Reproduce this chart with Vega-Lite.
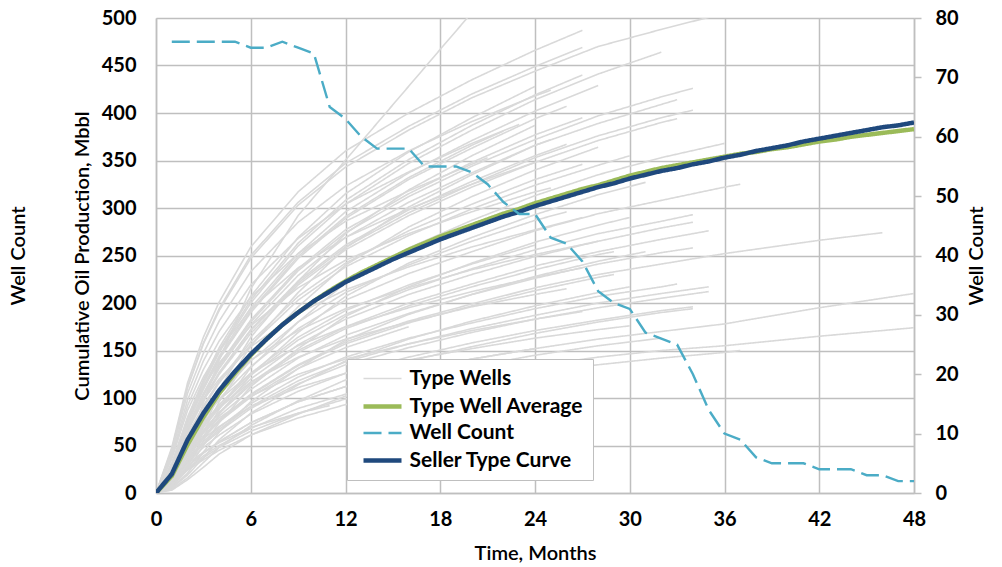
{
  "$schema": "https://vega.github.io/schema/vega-lite/v6.json",
  "width": 758,
  "height": 475,
  "autosize": {"type": "none"},
  "padding": {"left": 156, "top": 18, "right": 88, "bottom": 74},
  "background": "white",
  "config": {
    "font": "Lato",
    "view": {"stroke": null},
    "axis": {
      "labelFont": "Lato", "labelFontSize": 20, "labelFontWeight": "bold", "labelColor": "#000", "labelFlush": false,
      "titleFont": "Lato", "titleFontSize": 20, "titleFontWeight": 600, "titleColor": "#000",
      "gridColor": "#bfbfbf", "gridWidth": 1.5, "domainColor": "#bfbfbf", "domainWidth": 1.5, "ticks": false
    },
    "legend": {
      "orient": "none", "legendX": 191, "legendY": 341,
      "fillColor": "#ffffff", "strokeColor": "#bfbfbf", "padding": 9,
      "symbolType": "M-2,0H2", "symbolSize": 361, "symbolOffset": 14.5, "labelOffset": 15,
      "labelFont": "Lato", "labelFontSize": 21, "labelFontWeight": "bold", "labelColor": "#000", "labelLimit": 400,
      "rowPadding": 5.5
    }
  },
  "datasets": {
    "wells": [
      {"w":1,"t":0,"v":0},{"w":1,"t":1,"v":12},{"w":1,"t":2,"v":45},{"w":1,"t":3,"v":95},{"w":1,"t":4,"v":140},{"w":1,"t":6,"v":215},{"w":1,"t":9,"v":292},{"w":1,"t":18,"v":467},{"w":1,"t":21,"v":525},
      {"w":2,"t":0,"v":0},{"w":2,"t":1,"v":48},{"w":2,"t":2,"v":116},{"w":2,"t":3,"v":164},{"w":2,"t":4,"v":201},{"w":2,"t":6,"v":259},{"w":2,"t":9,"v":317},{"w":2,"t":12,"v":360},{"w":2,"t":16,"v":400},{"w":2,"t":20,"v":435},{"w":2,"t":24,"v":466},{"w":2,"t":27,"v":487},
      {"w":3,"t":0,"v":0},{"w":3,"t":1,"v":46},{"w":3,"t":2,"v":112},{"w":3,"t":3,"v":158},{"w":3,"t":4,"v":194},{"w":3,"t":6,"v":250},{"w":3,"t":9,"v":306},{"w":3,"t":12,"v":347},{"w":3,"t":16,"v":386},{"w":3,"t":20,"v":420},{"w":3,"t":24,"v":449},{"w":3,"t":27,"v":469},
      {"w":4,"t":0,"v":0},{"w":4,"t":1,"v":45},{"w":4,"t":2,"v":111},{"w":4,"t":3,"v":157},{"w":4,"t":4,"v":192},{"w":4,"t":6,"v":247},{"w":4,"t":9,"v":303},{"w":4,"t":12,"v":343},{"w":4,"t":16,"v":382},{"w":4,"t":20,"v":416},{"w":4,"t":24,"v":444},{"w":4,"t":28,"v":470},{"w":4,"t":32,"v":488},{"w":4,"t":36,"v":505},
      {"w":5,"t":0,"v":0},{"w":5,"t":1,"v":29},{"w":5,"t":2,"v":80},{"w":5,"t":3,"v":119},{"w":5,"t":4,"v":153},{"w":5,"t":6,"v":207},{"w":5,"t":9,"v":269},{"w":5,"t":12,"v":315},{"w":5,"t":16,"v":359},{"w":5,"t":20,"v":395},{"w":5,"t":24,"v":428},
      {"w":6,"t":0,"v":0},{"w":6,"t":1,"v":28},{"w":6,"t":2,"v":78},{"w":6,"t":3,"v":117},{"w":6,"t":4,"v":150},{"w":6,"t":6,"v":203},{"w":6,"t":9,"v":263},{"w":6,"t":12,"v":308},{"w":6,"t":16,"v":351},{"w":6,"t":20,"v":387},{"w":6,"t":24,"v":419},{"w":6,"t":27,"v":440},
      {"w":7,"t":0,"v":0},{"w":7,"t":1,"v":28},{"w":7,"t":2,"v":77},{"w":7,"t":3,"v":115},{"w":7,"t":4,"v":148},{"w":7,"t":6,"v":200},{"w":7,"t":9,"v":260},{"w":7,"t":12,"v":304},{"w":7,"t":16,"v":347},{"w":7,"t":20,"v":382},{"w":7,"t":24,"v":414},{"w":7,"t":28,"v":441},{"w":7,"t":32,"v":464},
      {"w":8,"t":0,"v":0},{"w":8,"t":1,"v":43},{"w":8,"t":2,"v":105},{"w":8,"t":3,"v":147},{"w":8,"t":4,"v":181},{"w":8,"t":6,"v":233},{"w":8,"t":9,"v":285},{"w":8,"t":12,"v":323},{"w":8,"t":16,"v":360},{"w":8,"t":20,"v":391},{"w":8,"t":24,"v":418},{"w":8,"t":25,"v":424},
      {"w":9,"t":0,"v":0},{"w":9,"t":1,"v":27},{"w":9,"t":2,"v":75},{"w":9,"t":3,"v":112},{"w":9,"t":4,"v":144},{"w":9,"t":6,"v":195},{"w":9,"t":9,"v":252},{"w":9,"t":12,"v":296},{"w":9,"t":16,"v":337},{"w":9,"t":20,"v":371},{"w":9,"t":24,"v":402},{"w":9,"t":28,"v":429},
      {"w":10,"t":0,"v":0},{"w":10,"t":1,"v":26},{"w":10,"t":2,"v":74},{"w":10,"t":3,"v":110},{"w":10,"t":4,"v":142},{"w":10,"t":6,"v":192},{"w":10,"t":9,"v":249},{"w":10,"t":12,"v":291},{"w":10,"t":16,"v":332},{"w":10,"t":20,"v":366},{"w":10,"t":22,"v":381},
      {"w":11,"t":0,"v":0},{"w":11,"t":1,"v":26},{"w":11,"t":2,"v":73},{"w":11,"t":3,"v":109},{"w":11,"t":4,"v":141},{"w":11,"t":6,"v":190},{"w":11,"t":9,"v":247},{"w":11,"t":12,"v":289},{"w":11,"t":16,"v":330},{"w":11,"t":20,"v":363},{"w":11,"t":24,"v":394},{"w":11,"t":26,"v":407},
      {"w":12,"t":0,"v":0},{"w":12,"t":1,"v":9},{"w":12,"t":2,"v":36},{"w":12,"t":3,"v":73},{"w":12,"t":4,"v":109},{"w":12,"t":6,"v":164},{"w":12,"t":9,"v":223},{"w":12,"t":12,"v":273},{"w":12,"t":16,"v":319},{"w":12,"t":20,"v":355},{"w":12,"t":24,"v":387},
      {"w":13,"t":0,"v":0},{"w":13,"t":1,"v":40},{"w":13,"t":2,"v":98},{"w":13,"t":3,"v":139},{"w":13,"t":4,"v":170},{"w":13,"t":6,"v":219},{"w":13,"t":9,"v":268},{"w":13,"t":12,"v":304},{"w":13,"t":16,"v":338},{"w":13,"t":20,"v":368},{"w":13,"t":23,"v":388},
      {"w":14,"t":0,"v":0},{"w":14,"t":1,"v":25},{"w":14,"t":2,"v":70},{"w":14,"t":3,"v":105},{"w":14,"t":4,"v":135},{"w":14,"t":6,"v":182},{"w":14,"t":9,"v":236},{"w":14,"t":12,"v":277},{"w":14,"t":16,"v":315},{"w":14,"t":20,"v":348},{"w":14,"t":24,"v":377},{"w":14,"t":27,"v":395},
      {"w":15,"t":0,"v":0},{"w":15,"t":1,"v":25},{"w":15,"t":2,"v":69},{"w":15,"t":3,"v":104},{"w":15,"t":4,"v":133},{"w":15,"t":6,"v":180},{"w":15,"t":9,"v":234},{"w":15,"t":12,"v":274},{"w":15,"t":16,"v":312},{"w":15,"t":20,"v":344},{"w":15,"t":24,"v":372},{"w":15,"t":28,"v":397},{"w":15,"t":32,"v":417},{"w":15,"t":34,"v":426},
      {"w":16,"t":0,"v":0},{"w":16,"t":1,"v":9},{"w":16,"t":2,"v":34},{"w":16,"t":3,"v":69},{"w":16,"t":4,"v":103},{"w":16,"t":6,"v":155},{"w":16,"t":9,"v":211},{"w":16,"t":12,"v":258},{"w":16,"t":16,"v":301},{"w":16,"t":20,"v":335},{"w":16,"t":24,"v":366},{"w":16,"t":25,"v":372},
      {"w":17,"t":0,"v":0},{"w":17,"t":1,"v":24},{"w":17,"t":2,"v":68},{"w":17,"t":3,"v":102},{"w":17,"t":4,"v":131},{"w":17,"t":6,"v":177},{"w":17,"t":9,"v":229},{"w":17,"t":12,"v":269},{"w":17,"t":16,"v":306},{"w":17,"t":20,"v":337},{"w":17,"t":24,"v":366},{"w":17,"t":28,"v":389},{"w":17,"t":32,"v":409},{"w":17,"t":33,"v":414},
      {"w":18,"t":0,"v":0},{"w":18,"t":1,"v":38},{"w":18,"t":2,"v":92},{"w":18,"t":3,"v":130},{"w":18,"t":4,"v":160},{"w":18,"t":6,"v":206},{"w":18,"t":9,"v":252},{"w":18,"t":12,"v":286},{"w":18,"t":16,"v":318},{"w":18,"t":20,"v":346},{"w":18,"t":21,"v":353},
      {"w":19,"t":0,"v":0},{"w":19,"t":1,"v":24},{"w":19,"t":2,"v":66},{"w":19,"t":3,"v":99},{"w":19,"t":4,"v":127},{"w":19,"t":6,"v":172},{"w":19,"t":9,"v":223},{"w":19,"t":12,"v":261},{"w":19,"t":16,"v":298},{"w":19,"t":20,"v":328},{"w":19,"t":24,"v":355},{"w":19,"t":26,"v":367},
      {"w":20,"t":0,"v":0},{"w":20,"t":1,"v":23},{"w":20,"t":2,"v":66},{"w":20,"t":3,"v":98},{"w":20,"t":4,"v":126},{"w":20,"t":6,"v":171},{"w":20,"t":9,"v":221},{"w":20,"t":12,"v":259},{"w":20,"t":16,"v":295},{"w":20,"t":20,"v":325},{"w":20,"t":24,"v":353},{"w":20,"t":28,"v":376},{"w":20,"t":32,"v":395},{"w":20,"t":34,"v":403},
      {"w":21,"t":0,"v":0},{"w":21,"t":1,"v":23},{"w":21,"t":2,"v":65},{"w":21,"t":3,"v":97},{"w":21,"t":4,"v":125},{"w":21,"t":6,"v":168},{"w":21,"t":9,"v":219},{"w":21,"t":12,"v":256},{"w":21,"t":16,"v":292},{"w":21,"t":20,"v":322},{"w":21,"t":24,"v":348},{"w":21,"t":28,"v":371},{"w":21,"t":32,"v":390},{"w":21,"t":33,"v":394},
      {"w":22,"t":0,"v":0},{"w":22,"t":1,"v":8},{"w":22,"t":2,"v":32},{"w":22,"t":3,"v":64},{"w":22,"t":4,"v":96},{"w":22,"t":6,"v":144},{"w":22,"t":9,"v":196},{"w":22,"t":12,"v":240},{"w":22,"t":16,"v":280},{"w":22,"t":20,"v":312},{"w":22,"t":24,"v":340},{"w":22,"t":28,"v":364},
      {"w":23,"t":0,"v":0},{"w":23,"t":1,"v":36},{"w":23,"t":2,"v":87},{"w":23,"t":3,"v":122},{"w":23,"t":4,"v":150},{"w":23,"t":6,"v":194},{"w":23,"t":9,"v":237},{"w":23,"t":12,"v":269},{"w":23,"t":16,"v":299},{"w":23,"t":20,"v":325},{"w":23,"t":24,"v":348},
      {"w":24,"t":0,"v":0},{"w":24,"t":1,"v":22},{"w":24,"t":2,"v":61},{"w":24,"t":3,"v":92},{"w":24,"t":4,"v":118},{"w":24,"t":6,"v":159},{"w":24,"t":9,"v":207},{"w":24,"t":12,"v":242},{"w":24,"t":16,"v":276},{"w":24,"t":20,"v":304},{"w":24,"t":24,"v":330},{"w":24,"t":27,"v":346},
      {"w":25,"t":0,"v":0},{"w":25,"t":1,"v":22},{"w":25,"t":2,"v":60},{"w":25,"t":3,"v":90},{"w":25,"t":4,"v":116},{"w":25,"t":6,"v":156},{"w":25,"t":9,"v":203},{"w":25,"t":12,"v":238},{"w":25,"t":16,"v":271},{"w":25,"t":20,"v":299},{"w":25,"t":24,"v":324},{"w":25,"t":28,"v":345},{"w":25,"t":30,"v":355},
      {"w":26,"t":0,"v":0},{"w":26,"t":1,"v":7},{"w":26,"t":2,"v":29},{"w":26,"t":3,"v":59},{"w":26,"t":4,"v":88},{"w":26,"t":6,"v":132},{"w":26,"t":9,"v":180},{"w":26,"t":12,"v":221},{"w":26,"t":16,"v":258},{"w":26,"t":20,"v":287},{"w":26,"t":24,"v":313},{"w":26,"t":28,"v":335},{"w":26,"t":32,"v":353},{"w":26,"t":36,"v":368},
      {"w":27,"t":0,"v":0},{"w":27,"t":1,"v":32},{"w":27,"t":2,"v":79},{"w":27,"t":3,"v":112},{"w":27,"t":4,"v":137},{"w":27,"t":6,"v":176},{"w":27,"t":9,"v":216},{"w":27,"t":12,"v":245},{"w":27,"t":16,"v":273},{"w":27,"t":20,"v":296},{"w":27,"t":24,"v":317},{"w":27,"t":25,"v":321},
      {"w":28,"t":0,"v":0},{"w":28,"t":1,"v":20},{"w":28,"t":2,"v":56},{"w":28,"t":3,"v":84},{"w":28,"t":4,"v":109},{"w":28,"t":6,"v":147},{"w":28,"t":9,"v":191},{"w":28,"t":12,"v":223},{"w":28,"t":16,"v":255},{"w":28,"t":20,"v":280},{"w":28,"t":24,"v":304},{"w":28,"t":28,"v":324},
      {"w":29,"t":0,"v":0},{"w":29,"t":1,"v":7},{"w":29,"t":2,"v":28},{"w":29,"t":3,"v":55},{"w":29,"t":4,"v":83},{"w":29,"t":6,"v":124},{"w":29,"t":9,"v":169},{"w":29,"t":12,"v":207},{"w":29,"t":16,"v":242},{"w":29,"t":20,"v":269},{"w":29,"t":24,"v":293},{"w":29,"t":28,"v":314},{"w":29,"t":31,"v":327},
      {"w":30,"t":0,"v":0},{"w":30,"t":1,"v":19},{"w":30,"t":2,"v":53},{"w":30,"t":3,"v":80},{"w":30,"t":4,"v":103},{"w":30,"t":6,"v":139},{"w":30,"t":9,"v":180},{"w":30,"t":12,"v":211},{"w":30,"t":16,"v":240},{"w":30,"t":20,"v":265},{"w":30,"t":24,"v":287},{"w":30,"t":26,"v":296},
      {"w":31,"t":0,"v":0},{"w":31,"t":1,"v":18},{"w":31,"t":2,"v":51},{"w":31,"t":3,"v":77},{"w":31,"t":4,"v":99},{"w":31,"t":6,"v":133},{"w":31,"t":9,"v":173},{"w":31,"t":12,"v":203},{"w":31,"t":16,"v":231},{"w":31,"t":20,"v":254},{"w":31,"t":24,"v":276},{"w":31,"t":28,"v":294},{"w":31,"t":32,"v":308},{"w":31,"t":36,"v":322},{"w":31,"t":37,"v":325},
      {"w":32,"t":0,"v":0},{"w":32,"t":1,"v":28},{"w":32,"t":2,"v":69},{"w":32,"t":3,"v":98},{"w":32,"t":4,"v":120},{"w":32,"t":6,"v":154},{"w":32,"t":9,"v":189},{"w":32,"t":12,"v":214},{"w":32,"t":16,"v":238},{"w":32,"t":20,"v":259},{"w":32,"t":24,"v":277},{"w":32,"t":27,"v":290},
      {"w":33,"t":0,"v":0},{"w":33,"t":1,"v":6},{"w":33,"t":2,"v":25},{"w":33,"t":3,"v":50},{"w":33,"t":4,"v":74},{"w":33,"t":6,"v":112},{"w":33,"t":9,"v":152},{"w":33,"t":12,"v":186},{"w":33,"t":16,"v":217},{"w":33,"t":20,"v":242},{"w":33,"t":24,"v":264},{"w":33,"t":28,"v":282},{"w":33,"t":30,"v":290},
      {"w":34,"t":0,"v":0},{"w":34,"t":1,"v":17},{"w":34,"t":2,"v":48},{"w":34,"t":3,"v":73},{"w":34,"t":4,"v":93},{"w":34,"t":6,"v":126},{"w":34,"t":9,"v":164},{"w":34,"t":12,"v":192},{"w":34,"t":16,"v":219},{"w":34,"t":20,"v":241},{"w":34,"t":24,"v":261},
      {"w":35,"t":0,"v":0},{"w":35,"t":1,"v":17},{"w":35,"t":2,"v":48},{"w":35,"t":3,"v":71},{"w":35,"t":4,"v":91},{"w":35,"t":6,"v":124},{"w":35,"t":9,"v":161},{"w":35,"t":12,"v":188},{"w":35,"t":16,"v":214},{"w":35,"t":20,"v":236},{"w":35,"t":24,"v":256},{"w":35,"t":28,"v":273},{"w":35,"t":32,"v":286},{"w":35,"t":34,"v":293},
      {"w":36,"t":0,"v":0},{"w":36,"t":1,"v":17},{"w":36,"t":2,"v":46},{"w":36,"t":3,"v":69},{"w":36,"t":4,"v":89},{"w":36,"t":6,"v":120},{"w":36,"t":9,"v":156},{"w":36,"t":12,"v":183},{"w":36,"t":16,"v":209},{"w":36,"t":20,"v":230},{"w":36,"t":24,"v":249},{"w":36,"t":28,"v":265},{"w":36,"t":32,"v":279},{"w":36,"t":34,"v":285},
      {"w":37,"t":0,"v":0},{"w":37,"t":1,"v":26},{"w":37,"t":2,"v":63},{"w":37,"t":3,"v":88},{"w":37,"t":4,"v":108},{"w":37,"t":6,"v":140},{"w":37,"t":9,"v":171},{"w":37,"t":12,"v":194},{"w":37,"t":16,"v":216},{"w":37,"t":20,"v":235},{"w":37,"t":24,"v":251},{"w":37,"t":28,"v":265},
      {"w":38,"t":0,"v":0},{"w":38,"t":1,"v":16},{"w":38,"t":2,"v":44},{"w":38,"t":3,"v":66},{"w":38,"t":4,"v":85},{"w":38,"t":6,"v":116},{"w":38,"t":9,"v":150},{"w":38,"t":12,"v":175},{"w":38,"t":16,"v":200},{"w":38,"t":20,"v":220},{"w":38,"t":24,"v":239},{"w":38,"t":28,"v":254},{"w":38,"t":32,"v":267},{"w":38,"t":35,"v":276},
      {"w":39,"t":0,"v":0},{"w":39,"t":1,"v":16},{"w":39,"t":2,"v":44},{"w":39,"t":3,"v":65},{"w":39,"t":4,"v":84},{"w":39,"t":6,"v":114},{"w":39,"t":9,"v":148},{"w":39,"t":12,"v":173},{"w":39,"t":16,"v":197},{"w":39,"t":20,"v":217},{"w":39,"t":24,"v":235},{"w":39,"t":28,"v":251},{"w":39,"t":29,"v":254},
      {"w":40,"t":0,"v":0},{"w":40,"t":1,"v":5},{"w":40,"t":2,"v":21},{"w":40,"t":3,"v":43},{"w":40,"t":4,"v":64},{"w":40,"t":6,"v":96},{"w":40,"t":9,"v":131},{"w":40,"t":12,"v":161},{"w":40,"t":16,"v":188},{"w":40,"t":20,"v":209},{"w":40,"t":24,"v":228},{"w":40,"t":28,"v":244},{"w":40,"t":31,"v":254},
      {"w":41,"t":0,"v":0},{"w":41,"t":1,"v":15},{"w":41,"t":2,"v":42},{"w":41,"t":3,"v":63},{"w":41,"t":4,"v":81},{"w":41,"t":6,"v":109},{"w":41,"t":9,"v":142},{"w":41,"t":12,"v":166},{"w":41,"t":16,"v":189},{"w":41,"t":20,"v":209},{"w":41,"t":24,"v":226},{"w":41,"t":28,"v":241},{"w":41,"t":32,"v":253},{"w":41,"t":34,"v":258},
      {"w":42,"t":0,"v":0},{"w":42,"t":1,"v":23},{"w":42,"t":2,"v":57},{"w":42,"t":3,"v":80},{"w":42,"t":4,"v":98},{"w":42,"t":6,"v":126},{"w":42,"t":9,"v":155},{"w":42,"t":12,"v":175},{"w":42,"t":16,"v":195},{"w":42,"t":20,"v":212},{"w":42,"t":24,"v":227},{"w":42,"t":27,"v":237},
      {"w":43,"t":0,"v":0},{"w":43,"t":1,"v":14},{"w":43,"t":2,"v":40},{"w":43,"t":3,"v":60},{"w":43,"t":4,"v":77},{"w":43,"t":6,"v":104},{"w":43,"t":9,"v":135},{"w":43,"t":12,"v":159},{"w":43,"t":16,"v":181},{"w":43,"t":20,"v":199},{"w":43,"t":24,"v":216},{"w":43,"t":28,"v":230},{"w":43,"t":32,"v":241},{"w":43,"t":36,"v":252},{"w":43,"t":42,"v":266},{"w":43,"t":46,"v":274},
      {"w":44,"t":0,"v":0},{"w":44,"t":1,"v":14},{"w":44,"t":2,"v":40},{"w":44,"t":3,"v":59},{"w":44,"t":4,"v":76},{"w":44,"t":6,"v":103},{"w":44,"t":9,"v":134},{"w":44,"t":12,"v":157},{"w":44,"t":16,"v":179},{"w":44,"t":20,"v":197},{"w":44,"t":24,"v":213},{"w":44,"t":28,"v":227},{"w":44,"t":29,"v":230},
      {"w":45,"t":0,"v":0},{"w":45,"t":1,"v":14},{"w":45,"t":2,"v":39},{"w":45,"t":3,"v":58},{"w":45,"t":4,"v":75},{"w":45,"t":6,"v":101},{"w":45,"t":9,"v":131},{"w":45,"t":12,"v":153},{"w":45,"t":16,"v":175},
      {"w":46,"t":0,"v":0},{"w":46,"t":1,"v":21},{"w":46,"t":2,"v":52},{"w":46,"t":3,"v":74},{"w":46,"t":4,"v":90},{"w":46,"t":6,"v":117},{"w":46,"t":9,"v":143},{"w":46,"t":12,"v":162},{"w":46,"t":16,"v":180},{"w":46,"t":20,"v":196},{"w":46,"t":24,"v":209},{"w":46,"t":26,"v":215},
      {"w":47,"t":0,"v":0},{"w":47,"t":1,"v":5},{"w":47,"t":2,"v":19},{"w":47,"t":3,"v":37},{"w":47,"t":4,"v":56},{"w":47,"t":6,"v":84},{"w":47,"t":9,"v":114},{"w":47,"t":12,"v":139},{"w":47,"t":16,"v":162},{"w":47,"t":20,"v":181},{"w":47,"t":24,"v":197},{"w":47,"t":28,"v":211},{"w":47,"t":30,"v":217},
      {"w":48,"t":0,"v":0},{"w":48,"t":1,"v":13},{"w":48,"t":2,"v":36},{"w":48,"t":3,"v":54},{"w":48,"t":4,"v":69},{"w":48,"t":6,"v":94},{"w":48,"t":9,"v":122},{"w":48,"t":12,"v":143},{"w":48,"t":16,"v":163},{"w":48,"t":20,"v":179},{"w":48,"t":24,"v":194},{"w":48,"t":28,"v":207},{"w":48,"t":32,"v":217},{"w":48,"t":33,"v":220},
      {"w":49,"t":0,"v":0},{"w":49,"t":1,"v":12},{"w":49,"t":2,"v":35},{"w":49,"t":3,"v":52},{"w":49,"t":4,"v":67},{"w":49,"t":6,"v":91},{"w":49,"t":9,"v":118},{"w":49,"t":12,"v":138},{"w":49,"t":16,"v":157},{"w":49,"t":20,"v":173},{"w":49,"t":24,"v":187},{"w":49,"t":28,"v":200},{"w":49,"t":32,"v":210},{"w":49,"t":35,"v":217},
      {"w":50,"t":0,"v":0},{"w":50,"t":1,"v":12},{"w":50,"t":2,"v":34},{"w":50,"t":3,"v":51},{"w":50,"t":4,"v":65},{"w":50,"t":6,"v":89},{"w":50,"t":9,"v":115},{"w":50,"t":12,"v":135},{"w":50,"t":16,"v":153},{"w":50,"t":20,"v":169},{"w":50,"t":24,"v":183},{"w":50,"t":28,"v":195},{"w":50,"t":32,"v":205},{"w":50,"t":35,"v":212},
      {"w":51,"t":0,"v":0},{"w":51,"t":1,"v":19},{"w":51,"t":2,"v":46},{"w":51,"t":3,"v":64},{"w":51,"t":4,"v":79},{"w":51,"t":6,"v":102},{"w":51,"t":9,"v":125},{"w":51,"t":12,"v":141},{"w":51,"t":16,"v":157},{"w":51,"t":20,"v":171},{"w":51,"t":24,"v":183},{"w":51,"t":27,"v":191},
      {"w":52,"t":0,"v":0},{"w":52,"t":1,"v":11},{"w":52,"t":2,"v":32},{"w":52,"t":3,"v":48},{"w":52,"t":4,"v":61},{"w":52,"t":6,"v":83},{"w":52,"t":9,"v":107},{"w":52,"t":12,"v":126},{"w":52,"t":16,"v":143},{"w":52,"t":20,"v":158},{"w":52,"t":24,"v":171},{"w":52,"t":28,"v":182},{"w":52,"t":32,"v":192},{"w":52,"t":34,"v":196},
      {"w":53,"t":0,"v":0},{"w":53,"t":1,"v":4},{"w":53,"t":2,"v":16},{"w":53,"t":3,"v":32},{"w":53,"t":4,"v":48},{"w":53,"t":6,"v":71},{"w":53,"t":9,"v":97},{"w":53,"t":12,"v":119},{"w":53,"t":16,"v":139},{"w":53,"t":20,"v":154},{"w":53,"t":24,"v":168},{"w":53,"t":28,"v":180},{"w":53,"t":32,"v":190},{"w":53,"t":34,"v":194},
      {"w":54,"t":0,"v":0},{"w":54,"t":1,"v":10},{"w":54,"t":2,"v":28},{"w":54,"t":3,"v":42},{"w":54,"t":4,"v":54},{"w":54,"t":6,"v":74},{"w":54,"t":9,"v":96},{"w":54,"t":12,"v":112},{"w":54,"t":16,"v":128},{"w":54,"t":20,"v":141},{"w":54,"t":24,"v":152},{"w":54,"t":28,"v":162},{"w":54,"t":32,"v":170},{"w":54,"t":36,"v":178},{"w":54,"t":42,"v":195},{"w":54,"t":48,"v":210},
      {"w":55,"t":0,"v":0},{"w":55,"t":1,"v":17},{"w":55,"t":2,"v":41},{"w":55,"t":3,"v":57},{"w":55,"t":4,"v":70},{"w":55,"t":6,"v":91},{"w":55,"t":9,"v":111},{"w":55,"t":12,"v":126},{"w":55,"t":16,"v":140},{"w":55,"t":20,"v":152},{"w":55,"t":24,"v":163},{"w":55,"t":28,"v":172},{"w":55,"t":30,"v":176},
      {"w":56,"t":0,"v":0},{"w":56,"t":1,"v":10},{"w":56,"t":2,"v":28},{"w":56,"t":3,"v":42},{"w":56,"t":4,"v":54},{"w":56,"t":6,"v":74},{"w":56,"t":9,"v":96},{"w":56,"t":12,"v":112},{"w":56,"t":16,"v":128},{"w":56,"t":20,"v":141},{"w":56,"t":24,"v":152},
      {"w":57,"t":0,"v":0},{"w":57,"t":1,"v":3},{"w":57,"t":2,"v":14},{"w":57,"t":3,"v":27},{"w":57,"t":4,"v":41},{"w":57,"t":6,"v":61},{"w":57,"t":9,"v":83},{"w":57,"t":12,"v":102},{"w":57,"t":16,"v":119},{"w":57,"t":20,"v":133},{"w":57,"t":24,"v":145},{"w":57,"t":28,"v":155},{"w":57,"t":32,"v":163},
      {"w":58,"t":0,"v":0},{"w":58,"t":1,"v":9},{"w":58,"t":2,"v":26},{"w":58,"t":3,"v":39},{"w":58,"t":4,"v":50},{"w":58,"t":6,"v":68},{"w":58,"t":9,"v":89},{"w":58,"t":12,"v":104},{"w":58,"t":16,"v":118},{"w":58,"t":20,"v":130},
      {"w":59,"t":0,"v":0},{"w":59,"t":1,"v":9},{"w":59,"t":2,"v":25},{"w":59,"t":3,"v":37},{"w":59,"t":4,"v":48},{"w":59,"t":6,"v":65},{"w":59,"t":9,"v":84},{"w":59,"t":12,"v":99},{"w":59,"t":16,"v":113},{"w":59,"t":20,"v":124},{"w":59,"t":24,"v":134},{"w":59,"t":28,"v":143},{"w":59,"t":32,"v":150},{"w":59,"t":36,"v":155},{"w":59,"t":42,"v":165},{"w":59,"t":48,"v":174},
      {"w":60,"t":0,"v":0},{"w":60,"t":1,"v":13},{"w":60,"t":2,"v":31},{"w":60,"t":3,"v":43},{"w":60,"t":4,"v":53},{"w":60,"t":6,"v":69},{"w":60,"t":9,"v":84},{"w":60,"t":11,"v":92},
      {"w":61,"t":0,"v":0},{"w":61,"t":1,"v":8},{"w":61,"t":2,"v":24},{"w":61,"t":3,"v":35},{"w":61,"t":4,"v":45},{"w":61,"t":6,"v":61},{"w":61,"t":9,"v":79},{"w":61,"t":12,"v":93},{"w":61,"t":16,"v":106},{"w":61,"t":20,"v":117},{"w":61,"t":24,"v":127},{"w":61,"t":28,"v":135},{"w":61,"t":32,"v":142},{"w":61,"t":36,"v":148},{"w":61,"t":37,"v":150}
    ],
    "avg": [
      {"t":0,"v":0},{"t":1,"v":18},{"t":2,"v":51},{"t":3,"v":80},{"t":4,"v":105},{"t":5,"v":126},{"t":6,"v":145},{"t":7,"v":162},{"t":8,"v":177},{"t":9,"v":190},{"t":10,"v":202},{"t":11,"v":213},{"t":12,"v":223},{"t":13,"v":232},{"t":14,"v":240},{"t":15,"v":248},{"t":16,"v":256},{"t":17,"v":263},{"t":18,"v":270},{"t":19,"v":276},{"t":20,"v":282},{"t":21,"v":288},{"t":22,"v":294},{"t":23,"v":299},{"t":24,"v":305},{"t":25,"v":310},{"t":26,"v":315},{"t":27,"v":320},{"t":28,"v":324},{"t":29,"v":329},{"t":30,"v":334},{"t":31,"v":338},{"t":32,"v":342},{"t":33,"v":345},{"t":34,"v":348},{"t":35,"v":351},{"t":36,"v":354},{"t":37,"v":357},{"t":38,"v":359},{"t":39,"v":362},{"t":40,"v":364},{"t":41,"v":367},{"t":42,"v":370},{"t":43,"v":372},{"t":44,"v":375},{"t":45,"v":377},{"t":46,"v":379},{"t":47,"v":381},{"t":48,"v":383}
    ],
    "seller": [
      {"t":0,"v":0},{"t":1,"v":20},{"t":2,"v":56},{"t":3,"v":84},{"t":4,"v":108},{"t":5,"v":128},{"t":6,"v":146},{"t":7,"v":162},{"t":8,"v":177},{"t":9,"v":190},{"t":10,"v":202},{"t":11,"v":212},{"t":12,"v":222},{"t":13,"v":230},{"t":14,"v":238},{"t":15,"v":246},{"t":16,"v":253},{"t":17,"v":260},{"t":18,"v":267},{"t":19,"v":273},{"t":20,"v":279},{"t":21,"v":285},{"t":22,"v":291},{"t":23,"v":296},{"t":24,"v":302},{"t":25,"v":307},{"t":26,"v":312},{"t":27,"v":317},{"t":28,"v":322},{"t":29,"v":326},{"t":30,"v":331},{"t":31,"v":335},{"t":32,"v":339},{"t":33,"v":342},{"t":34,"v":346},{"t":35,"v":349},{"t":36,"v":353},{"t":37,"v":356},{"t":38,"v":360},{"t":39,"v":363},{"t":40,"v":366},{"t":41,"v":370},{"t":42,"v":373},{"t":43,"v":376},{"t":44,"v":379},{"t":45,"v":382},{"t":46,"v":385},{"t":47,"v":387},{"t":48,"v":390}
    ],
    "count": [
      {"t":1,"c":76},{"t":2,"c":76},{"t":3,"c":76},{"t":4,"c":76},{"t":5,"c":76},{"t":6,"c":75},{"t":7,"c":75},{"t":8,"c":76},{"t":9,"c":75},{"t":10,"c":74},{"t":11,"c":65},{"t":12,"c":63},{"t":13,"c":60},{"t":14,"c":58},{"t":15,"c":58},{"t":16,"c":58},{"t":17,"c":55},{"t":18,"c":55},{"t":19,"c":55},{"t":20,"c":54},{"t":21,"c":52},{"t":22,"c":49},{"t":23,"c":47},{"t":24,"c":47},{"t":25,"c":43},{"t":26,"c":42},{"t":27,"c":39},{"t":28,"c":34},{"t":29,"c":32},{"t":30,"c":31},{"t":31,"c":27},{"t":32,"c":26},{"t":33,"c":25},{"t":34,"c":20},{"t":35,"c":14},{"t":36,"c":10},{"t":37,"c":9},{"t":38,"c":6},{"t":39,"c":5},{"t":40,"c":5},{"t":41,"c":5},{"t":42,"c":4},{"t":43,"c":4},{"t":44,"c":4},{"t":45,"c":3},{"t":46,"c":3},{"t":47,"c":2},{"t":48,"c":2}
    ]
  },
  "encoding": {
    "x": {
      "field": "t", "type": "quantitative",
      "scale": {"domain": [0, 48], "nice": false},
      "axis": {"title": "Time, Months", "values": [0, 6, 12, 18, 24, 30, 36, 42, 48], "grid": true, "labelPadding": 16, "titlePadding": 14}
    }
  },
  "layer": [
    {
      "encoding": {
        "y": {
          "field": "v", "type": "quantitative",
          "scale": {"domain": [0, 500], "nice": false},
          "axis": {"title": "Cumulative Oil Production, Mbbl", "orient": "left", "values": [0, 50, 100, 150, 200, 250, 300, 350, 400, 450, 500], "grid": true, "labelPadding": 20, "titlePadding": 9}
        }
      },
      "layer": [
        {
          "data": {"name": "wells"},
          "mark": {"type": "line", "clip": true},
          "encoding": {
            "detail": {"field": "w", "type": "nominal"},
            "color": {"datum": "Type Wells", "scale": {"domain": ["Type Wells", "Type Well Average", "Well Count", "Seller Type Curve"], "range": ["#d9d9d9", "#9bbb59", "#4bacc6", "#1f497d"]}, "legend": {"title": null, "labelExpr": "datum.label + '\u00a0\u00a0\u00a0\u00a0'"}},
            "strokeDash": {"datum": "Type Wells", "scale": {"domain": ["Type Wells", "Type Well Average", "Well Count", "Seller Type Curve"], "range": [[1, 0], [1, 0], [18, 7], [1, 0]]}, "legend": {"title": null}},
            "strokeWidth": {"datum": "Type Wells", "scale": {"type": "ordinal", "domain": ["Type Wells", "Type Well Average", "Well Count", "Seller Type Curve"], "range": [1.6, 4.5, 2.4, 4.5]}, "legend": {"title": null}}
          }
        },
        {
          "data": {"name": "avg"},
          "mark": {"type": "line", "clip": true},
          "encoding": {
            "color": {"datum": "Type Well Average", "scale": {"domain": ["Type Wells", "Type Well Average", "Well Count", "Seller Type Curve"], "range": ["#d9d9d9", "#9bbb59", "#4bacc6", "#1f497d"]}, "legend": {"title": null}},
            "strokeDash": {"datum": "Type Well Average", "scale": {"domain": ["Type Wells", "Type Well Average", "Well Count", "Seller Type Curve"], "range": [[1, 0], [1, 0], [18, 7], [1, 0]]}, "legend": {"title": null}},
            "strokeWidth": {"datum": "Type Well Average", "scale": {"type": "ordinal", "domain": ["Type Wells", "Type Well Average", "Well Count", "Seller Type Curve"], "range": [1.6, 4.5, 2.4, 4.5]}, "legend": {"title": null}}
          }
        },
        {
          "data": {"name": "seller"},
          "mark": {"type": "line", "clip": true},
          "encoding": {
            "color": {"datum": "Seller Type Curve", "scale": {"domain": ["Type Wells", "Type Well Average", "Well Count", "Seller Type Curve"], "range": ["#d9d9d9", "#9bbb59", "#4bacc6", "#1f497d"]}, "legend": {"title": null}},
            "strokeDash": {"datum": "Seller Type Curve", "scale": {"domain": ["Type Wells", "Type Well Average", "Well Count", "Seller Type Curve"], "range": [[1, 0], [1, 0], [18, 7], [1, 0]]}, "legend": {"title": null}},
            "strokeWidth": {"datum": "Seller Type Curve", "scale": {"type": "ordinal", "domain": ["Type Wells", "Type Well Average", "Well Count", "Seller Type Curve"], "range": [1.6, 4.5, 2.4, 4.5]}, "legend": {"title": null}}
          }
        }
      ]
    },
    {
      "data": {"name": "count"},
      "mark": {"type": "line", "clip": true},
      "encoding": {
        "y": {
          "field": "c", "type": "quantitative",
          "scale": {"domain": [0, 80], "nice": false},
          "axis": {"title": "Well Count", "orient": "right", "values": [0, 10, 20, 30, 40, 50, 60, 70, 80], "grid": false, "ticks": true, "tickSize": 7, "tickColor": "#bfbfbf", "tickWidth": 1.5, "labelPadding": 14, "titleAngle": 270, "titleBaseline": "top", "titlePadding": 8}
        },
        "color": {"datum": "Well Count", "scale": {"domain": ["Type Wells", "Type Well Average", "Well Count", "Seller Type Curve"], "range": ["#d9d9d9", "#9bbb59", "#4bacc6", "#1f497d"]}, "legend": {"title": null}},
        "strokeDash": {"datum": "Well Count", "scale": {"domain": ["Type Wells", "Type Well Average", "Well Count", "Seller Type Curve"], "range": [[1, 0], [1, 0], [18, 7], [1, 0]]}, "legend": {"title": null}},
        "strokeWidth": {"datum": "Well Count", "scale": {"type": "ordinal", "domain": ["Type Wells", "Type Well Average", "Well Count", "Seller Type Curve"], "range": [1.6, 4.5, 2.4, 4.5]}, "legend": {"title": null}}
      }
    },
    {
      "data": {"name": "count"},
      "mark": {"type": "line", "opacity": 0},
      "encoding": {
        "y": {
          "field": "c", "type": "quantitative",
          "scale": {"domain": [0, 80], "nice": false},
          "axis": {"title": "Well Count", "orient": "left", "labels": false, "domain": false, "grid": false, "ticks": false, "titlePadding": 128}
        }
      }
    }
  ],
  "resolve": {"scale": {"y": "independent"}}
}
